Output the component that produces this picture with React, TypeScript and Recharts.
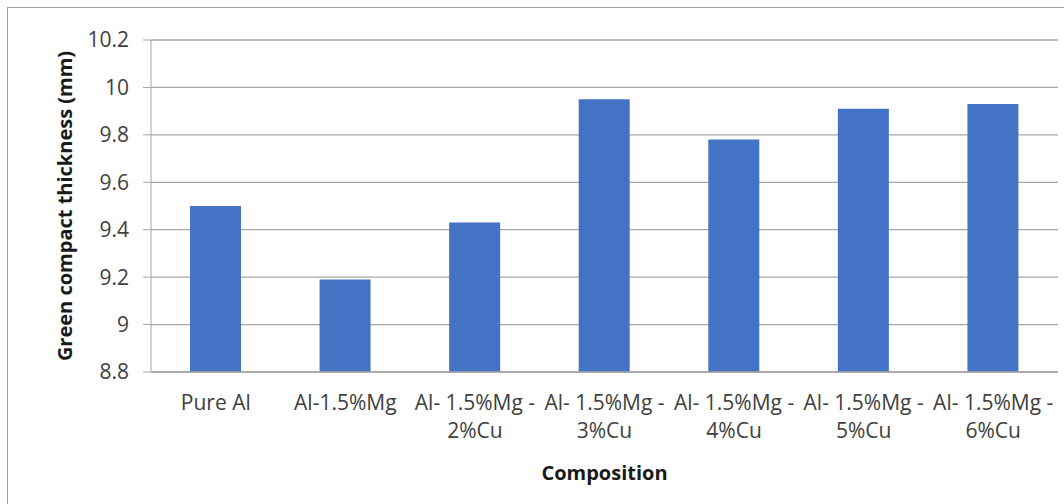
import { BarChart, Bar, XAxis, YAxis, CartesianGrid } from 'recharts'

const compositions = [
  'Pure Al',
  'Al-1.5%Mg',
  'Al- 1.5%Mg -2%Cu',
  'Al- 1.5%Mg -3%Cu',
  'Al- 1.5%Mg -4%Cu',
  'Al- 1.5%Mg -5%Cu',
  'Al- 1.5%Mg -6%Cu'
]
const thickness = [9.5, 9.19, 9.43, 9.95, 9.78, 9.91, 9.93]
const yTicks = [8.8, 9, 9.2, 9.4, 9.6, 9.8, 10, 10.2]

const data = compositions.map((name, i) => ({ name, value: thickness[i] }))

const FONT = '"Open Sans", "Noto Sans", sans-serif'
const TEXT = '#404040'
const TITLE = '#1a1a1a'

// Excel wraps the long labels after the " -"
const CategoryTick = ({ x, y, payload }: any) => {
  const label: string = payload.value
  const cut = label.lastIndexOf(' -')
  const lines = cut > 0 ? [label.slice(0, cut + 2), label.slice(cut + 2)] : [label]
  return (
    <text x={x} y={y} textAnchor="middle" fill={TEXT} fontSize={21} fontFamily={FONT}>
      {lines.map((l, i) => (
        <tspan key={i} x={x} dy={i === 0 ? 30 : 28}>{l}</tspan>
      ))}
    </text>
  )
}

const XTitle = ({ viewBox }: any) => (
  <text
    x={viewBox.x + viewBox.width / 2}
    y={viewBox.y + 108}
    textAnchor="middle"
    fill={TITLE}
    fontSize={20}
    fontWeight={700}
    fontFamily={FONT}
  >
    Composition
  </text>
)

const YTitle = ({ viewBox }: any) => {
  const cx = viewBox.x + 72
  const cy = viewBox.y + viewBox.height / 2
  return (
    <text
      x={cx}
      y={cy}
      transform={`rotate(-90, ${cx}, ${cy})`}
      textAnchor="middle"
      fill={TITLE}
      fontSize={20}
      fontWeight={700}
      fontFamily={FONT}
    >
      Green compact thickness (mm)
    </text>
  )
}

export default function App() {
  return (
    <div style={{ position: 'absolute', left: 0, top: 0, width: 1064, height: 504, overflow: 'hidden', background: '#fff' }}>
      <div style={{
        position: 'absolute',
        left: 7,
        top: 7,
        width: 1100,
        height: 600,
        border: '1px solid #a0a0a0'
      }} />
      <div style={{ position: 'absolute', left: 0, top: 0 }}>
        <BarChart
          width={1064}
          height={504}
          data={data}
          margin={{ top: 40, right: 6, left: 0, bottom: 12 }}
          barCategoryGap="30%"
        >
          <CartesianGrid vertical={false} stroke="#a6a6a6" strokeWidth={1.3} />
          <XAxis
            dataKey="name"
            height={120}
            interval={0}
            tickLine={false}
            axisLine={{ stroke: '#a6a6a6', strokeWidth: 1.3 }}
            tick={<CategoryTick />}
            label={<XTitle />}
          />
          <YAxis
            width={151}
            domain={[8.8, 10.2]}
            ticks={yTicks}
            allowDataOverflow
            tickSize={8}
            tickMargin={14}
            stroke="#a6a6a6"
            tickFormatter={(v) => String(Number(v.toFixed(1)))}
            tick={{ fill: TEXT, fontSize: 21, fontFamily: FONT }}
            label={<YTitle />}
          />
          <Bar dataKey="value" fill="#4472c4" barSize={51} isAnimationActive={false} />
        </BarChart>
      </div>
    </div>
  )
}
